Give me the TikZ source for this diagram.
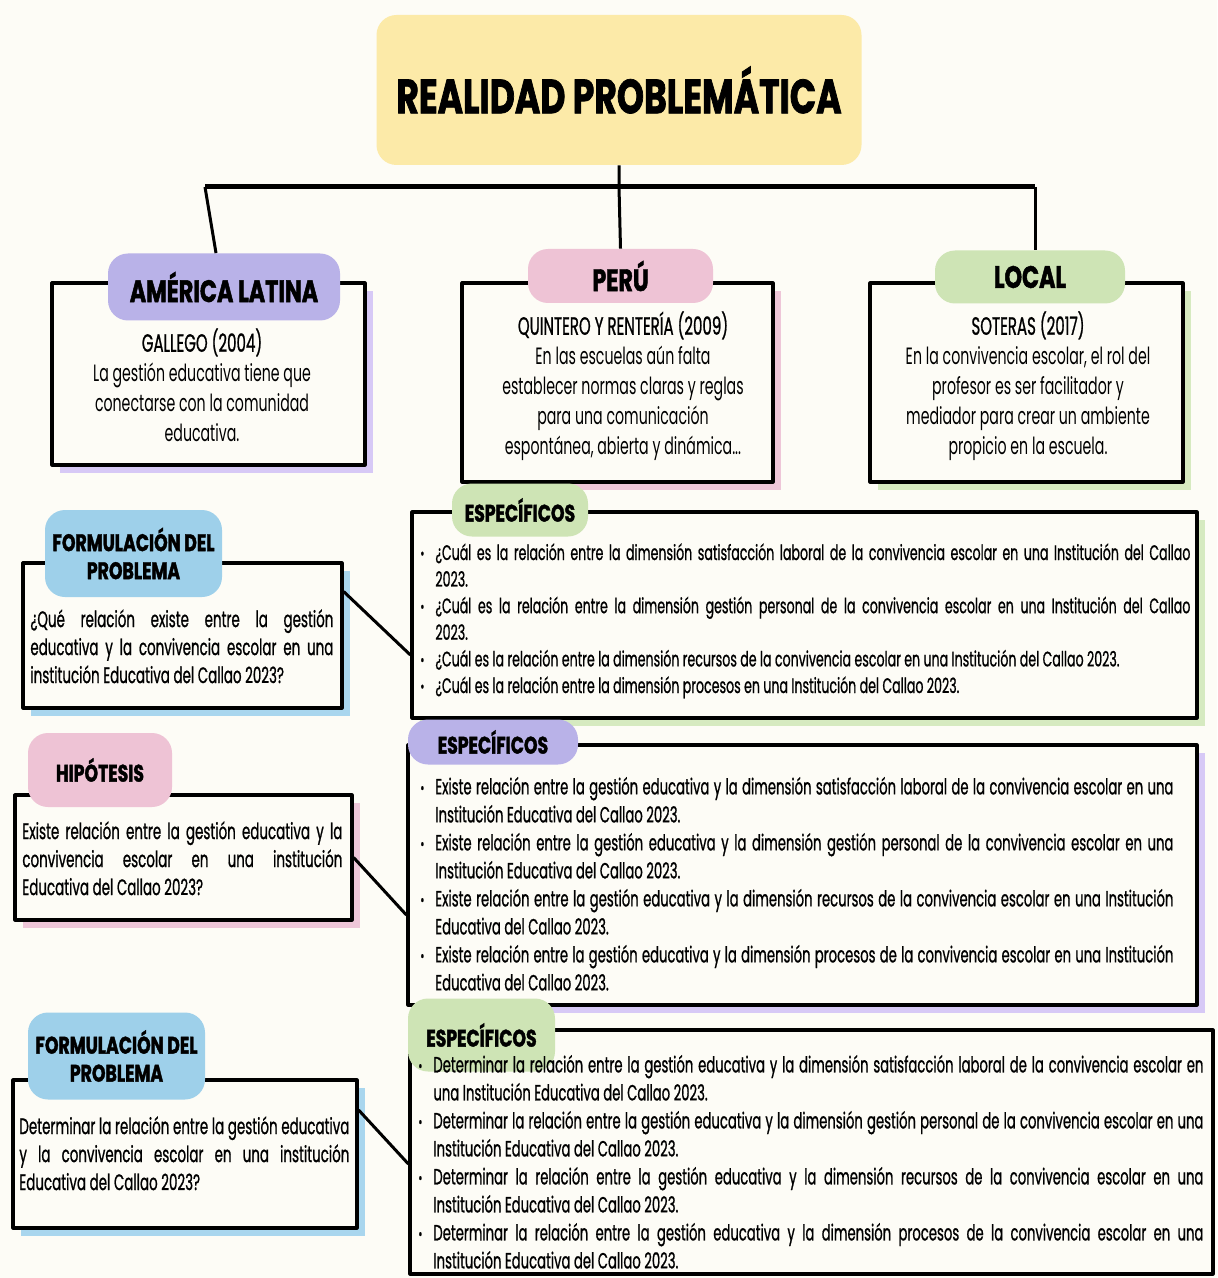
\documentclass[tikz,border=0pt]{standalone}
\usepackage{fontspec}
\setmainfont{Poppins}[FakeStretch=0.6]
\newfontfamily\medio{Poppins}[FakeStretch=0.6,FakeBold=0.8]
\newfontfamily\titulofont{Poppins}[FakeStretch=0.72,FakeBold=1.5]
\usetikzlibrary{positioning,shadows}
\definecolor{fondo}{HTML}{FDFCF6}
\definecolor{amarillo}{HTML}{FCEAA8}
\definecolor{lila}{HTML}{B9B2E8}
\definecolor{lilasombra}{HTML}{D7C9F6}
\definecolor{rosa}{HTML}{EEC3D5}
\definecolor{rosasombra}{HTML}{EEC6D8}
\definecolor{verde}{HTML}{CEE4B5}
\definecolor{verdesombra}{HTML}{D6EAC0}
\definecolor{celeste}{HTML}{9ED0EA}
\definecolor{celestesombra}{HTML}{A9D6EE}
\newcommand\vineta{\par\hangindent=7.5pt\hangafter=1\noindent\makebox[7.5pt][l]{\raisebox{0.5pt}{\fontsize{8}{8}\selectfont\textbullet}}}

\begin{document}
\begin{tikzpicture}[x=0.5pt,y=-0.5pt,
  marco/.style={draw=black,line width=1.6pt,fill=fondo,inner sep=0pt,line join=round},
  sombra/.style={drop shadow={shadow xshift=4pt,shadow yshift=-4pt,fill=#1,opacity=1}},
  pestana/.style={rounded corners=10pt,inner sep=0pt,align=center,font=\titulofont\bfseries\fontsize{12}{14}\selectfont},
  linea/.style={line width=1.5pt},
  cuerpo/.style={inner sep=0pt,anchor=north,align=center,font=\fontsize{11.8}{15}\selectfont},
  parrafo/.style={inner sep=0pt,anchor=north west,align=justify,font=\medio\fontsize{11.2}{14}\selectfont},
  lista/.style={inner sep=0pt,anchor=north west,align=justify,font=\medio\fontsize{11}{14}\selectfont}]
\useasboundingbox (0,0) rectangle (1217,1278);
\fill[fondo] (0,0) rectangle (1217,1278);

% marcos
\node[marco,sombra=lilasombra,minimum width=156.5pt,minimum height=91pt] (alat) at (208.5,374) {};
\node[marco,sombra=rosasombra,minimum width=155.5pt,minimum height=99.5pt] (peru) at (617.5,382.5) {};
\node[marco,sombra=verdesombra,minimum width=156.5pt,minimum height=99.5pt] (local) at (1026.5,382.5) {};
\node[marco,sombra=celestesombra,minimum width=159.5pt,minimum height=72.5pt] (form1) at (182.5,635.5) {};
\node[marco,sombra=verdesombra,minimum width=392.5pt,minimum height=103pt] (esp1) at (804.5,615) {};
\node[marco,sombra=rosasombra,minimum width=168.5pt,minimum height=62.5pt] (hip) at (183.5,857.5) {};
\node[marco,sombra=lilasombra,minimum width=394.5pt,minimum height=130pt] (esp2) at (802.5,875) {};
\node[marco,sombra=celestesombra,minimum width=172pt,minimum height=74pt] (form2) at (185,1154) {};
\node[marco,minimum width=401.5pt,minimum height=122pt] (esp3) at (811.5,1152) {};

% pestanas
\node[pestana,fill=amarillo,minimum width=242.5pt,minimum height=75pt,font=\titulofont\bfseries\fontsize{24}{28}\selectfont] (titulo) at (619,90) {REALIDAD PROBLEMÁTICA};
\node[pestana,fill=lila,minimum width=116pt,minimum height=33.5pt,font=\titulofont\bfseries\fontsize{15.5}{18}\selectfont] (talat) at (224,287) {AMÉRICA LATINA};
\node[pestana,fill=rosa,minimum width=92.5pt,minimum height=27pt,font=\titulofont\bfseries\fontsize{15.5}{18}\selectfont] (tperu) at (620.5,276) {PERÚ};
\node[pestana,fill=verde,minimum width=95pt,minimum height=26.5pt,font=\titulofont\bfseries\fontsize{15.5}{18}\selectfont] (tlocal) at (1030,277) {LOCAL};
\node[pestana,fill=celeste,minimum width=88.5pt,minimum height=43.5pt] (tform1) at (133.5,553.5) {FORMULACIÓN DEL\\PROBLEMA};
\node[pestana,fill=verde,minimum width=68pt,minimum height=26.5pt] (tesp1) at (520,510) {ESPECÍFICOS};
\node[pestana,fill=rosa,minimum width=72pt,minimum height=37pt] (thip) at (100,770) {HIPÓTESIS};
\node[pestana,fill=lila,minimum width=85pt,minimum height=22.5pt] (tesp2) at (493,742) {ESPECÍFICOS};
\node[pestana,fill=celeste,minimum width=88.5pt,minimum height=43.5pt] (tform2) at (116.5,1056) {FORMULACIÓN DEL\\PROBLEMA};
\node[pestana,fill=verde,minimum width=73.5pt,minimum height=36.5pt] (tesp3) at (481.5,1035) {ESPECÍFICOS};

% conectores
\coordinate (barI) at (205,187);
\coordinate (barD) at (1035,187);
\draw[line width=2.5pt] (barI) -- (barD);
\draw[linea] (titulo.south) -- (titulo.south |- barI) -- (tperu.north);
\draw[linea] (barI) -- ([xshift=-4pt]talat.north);
\draw[linea] (barD) -- (tlocal.north -| barD);
\draw[linea] ([yshift=22pt]form1.east) -- ([yshift=-20pt]esp1.west);
\draw[linea] (hip.east) -- ([yshift=-20pt]esp2.west);
\draw[linea] ([yshift=22pt]form2.east) -- ([yshift=-6pt]esp3.west);

% textos de los marcos
\node[cuerpo] (galtxt) at (202,328) {{\medio\fontsize{12.5}{15}\selectfont GALLEGO (2004)}\\La gestión educativa tiene que\\conectarse con la comunidad\\educativa.};
\node[cuerpo] (pertxt) at (623,311) {{\medio\fontsize{12.5}{15}\selectfont QUINTERO Y RENTERÍA (2009)}\\En las escuelas aún falta\\establecer normas claras y reglas\\para una comunicación\\espontánea, abierta y dinámica...};
\node[cuerpo] (loctxt) at (1028,311) {{\medio\fontsize{12.5}{15}\selectfont SOTERAS (2017)}\\En la convivencia escolar, el rol del\\profesor es ser facilitador y\\mediador para crear un ambiente\\propicio en la escuela.};

\node[parrafo,text width=151.5pt] (f1txt) at (30,609) {¿Qué relación existe entre la gestión\linebreak educativa y la convivencia escolar en una\linebreak institución Educativa del Callao 2023?};
\node[parrafo,text width=160pt] (hiptxt) at (22,821) {Existe relación entre la gestión educativa y la\linebreak convivencia escolar en una institución\linebreak Educativa del Callao 2023?};
\node[parrafo,text width=165pt] (f2txt) at (19,1116) {Determinar la relación entre la gestión educativa\linebreak y la convivencia escolar en una institución\linebreak Educativa del Callao 2023?};

\node[lista,text width=385pt,font=\medio\fontsize{10.5}{13.3}\selectfont] (e1txt) at (420,533) {%
\vineta ¿Cuál es la relación entre la dimensión satisfacción laboral de la convivencia escolar en una Institución del Callao\linebreak 2023.
\vineta ¿Cuál es la relación entre la dimensión gestión personal de la convivencia escolar en una Institución del Callao\linebreak 2023.
\vineta ¿Cuál es la relación entre la dimensión recursos de la convivencia escolar en una Institución del Callao 2023.
\vineta ¿Cuál es la relación entre la dimensión procesos en una Institución del Callao 2023.\par};
\node[lista,text width=376.5pt] (e2txt) at (420,766) {%
\vineta Existe relación entre la gestión educativa y la dimensión satisfacción laboral de la convivencia escolar en una\linebreak Institución Educativa del Callao 2023.
\vineta Existe relación entre la gestión educativa y la dimensión gestión personal de la convivencia escolar en una\linebreak Institución Educativa del Callao 2023.
\vineta Existe relación entre la gestión educativa y la dimensión recursos de la convivencia escolar en una Institución\linebreak Educativa del Callao 2023.
\vineta Existe relación entre la gestión educativa y la dimensión procesos de la convivencia escolar en una Institución\linebreak Educativa del Callao 2023.\par};
\node[lista,text width=392.5pt] (e3txt) at (418,1044) {%
\vineta Determinar la relación entre la gestión educativa y la dimensión satisfacción laboral de la convivencia escolar en\linebreak una Institución Educativa del Callao 2023.
\vineta Determinar la relación entre la gestión educativa y la dimensión gestión personal de la convivencia escolar en una\linebreak Institución Educativa del Callao 2023.
\vineta Determinar la relación entre la gestión educativa y la dimensión recursos de la convivencia escolar en una\linebreak Institución Educativa del Callao 2023.
\vineta Determinar la relación entre la gestión educativa y la dimensión procesos de la convivencia escolar en una\linebreak Institución Educativa del Callao 2023.\par};
\end{tikzpicture}
\end{document}
